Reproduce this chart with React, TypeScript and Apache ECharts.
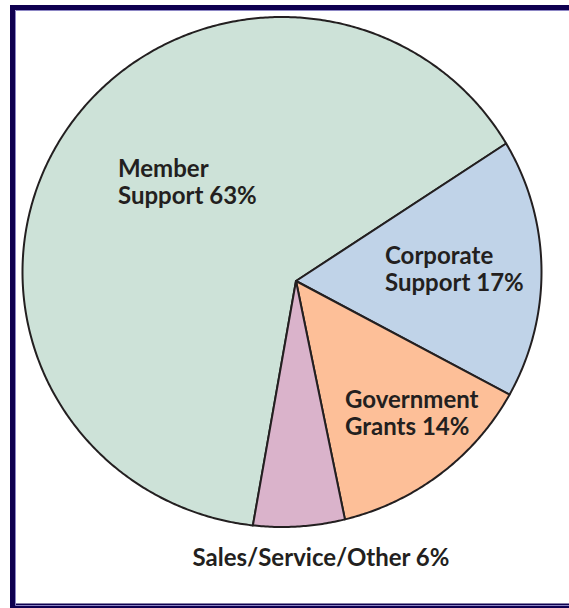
import React, { useEffect, useRef } from "react";
import * as echarts from "echarts";

// ---- data ----
const categories = ["Member\nSupport", "Corporate\nSupport", "Government\nGrants", "Sales/Service/Other"];
const values = [63, 17, 14, 6];
const colors = ["#cde2d8", "#c0d3e8", "#fdbf98", "#dab3cb"];

// ---- layout ----
const START_ANGLE = 260; // degrees, slices go clockwise
const VERTEX = { x: 296, y: 281 };
const ELLIPSE = { cx: 282, cy: 272, rx: 259.5, ry: 255 };
const LABEL_ANCHORS = [
  { x: 118, y: 181, align: "left", size: 24 },
  { x: 385, y: 268, align: "left", size: 24 },
  { x: 345, y: 412, align: "left", size: 24 },
  { x: 321, y: 556, align: "center", size: 24 },
];

function rayPoint(deg: number): number[] {
  const t0 = (deg * Math.PI) / 180;
  const dx = Math.cos(t0);
  const dy = -Math.sin(t0);
  const wx = (VERTEX.x - ELLIPSE.cx) / ELLIPSE.rx;
  const wy = (VERTEX.y - ELLIPSE.cy) / ELLIPSE.ry;
  const ddx = dx / ELLIPSE.rx;
  const ddy = dy / ELLIPSE.ry;
  const a = ddx * ddx + ddy * ddy;
  const b = wx * ddx + wy * ddy;
  const c = wx * wx + wy * wy - 1;
  const t = (-b + Math.sqrt(b * b - a * c)) / a;
  return [VERTEX.x + t * dx, VERTEX.y + t * dy];
}

export default function App() {
  const ref = useRef<HTMLDivElement>(null);
  useEffect(() => {
    if (!ref.current) return;
    const chart = echarts.init(ref.current, null, { renderer: "svg" });
    const total = values.reduce((s, v) => s + v, 0);
    chart.setOption({
      animation: false,
      backgroundColor: "#ffffff",
      graphic: [
        {
          type: "rect",
          shape: { x: 12.5, y: 7.5, width: 580, height: 598.5 },
          style: { fill: "none", stroke: "#0f0050", lineWidth: 5 },
          silent: true,
        },
        {
          type: "rect",
          shape: { x: 15.5, y: 10.5, width: 580, height: 595 },
          style: { fill: "none", stroke: "#8c86c4", lineWidth: 1 },
          silent: true,
        },
      ],
      series: [
        {
          type: "custom",
          coordinateSystem: "none",
          data: values.map((v) => [v]),
          renderItem: (params: any, api: any) => {
            const i = params.dataIndex;
            let before = 0;
            for (let k = 0; k < i; k++) before += values[k];
            const start = START_ANGLE - (before / total) * 360;
            const end = start - (api.value(0) / total) * 360;
            const pts: number[][] = [[VERTEX.x, VERTEX.y]];
            const steps = Math.max(8, Math.ceil((start - end) * 2));
            for (let k = 0; k <= steps; k++) {
              pts.push(rayPoint(start + ((end - start) * k) / steps));
            }
            const anchor = LABEL_ANCHORS[i];
            return {
              type: "group",
              children: [
                {
                  type: "polygon",
                  shape: { points: pts },
                  style: {
                    fill: colors[i],
                    stroke: "#231f20",
                    lineWidth: 2,
                    lineJoin: "round",
                  },
                },
                {
                  type: "text",
                  z2: 100,
                  style: {
                    text: categories[i] + " " + values[i] + "%",
                    x: anchor.x,
                    y: anchor.y,
                    fill: "#231f20",
                    fontFamily: "Lato",
                    fontWeight: "bold",
                    fontSize: anchor.size,
                    lineHeight: 27,
                    align: anchor.align,
                    verticalAlign: "middle",
                  },
                },
              ],
            };
          },
        },
      ],
    });
    return () => chart.dispose();
  }, []);
  return (
    <div
      ref={ref}
      style={{ position: "absolute", left: 0, top: 0, width: 569, height: 608 }}
    />
  );
}
